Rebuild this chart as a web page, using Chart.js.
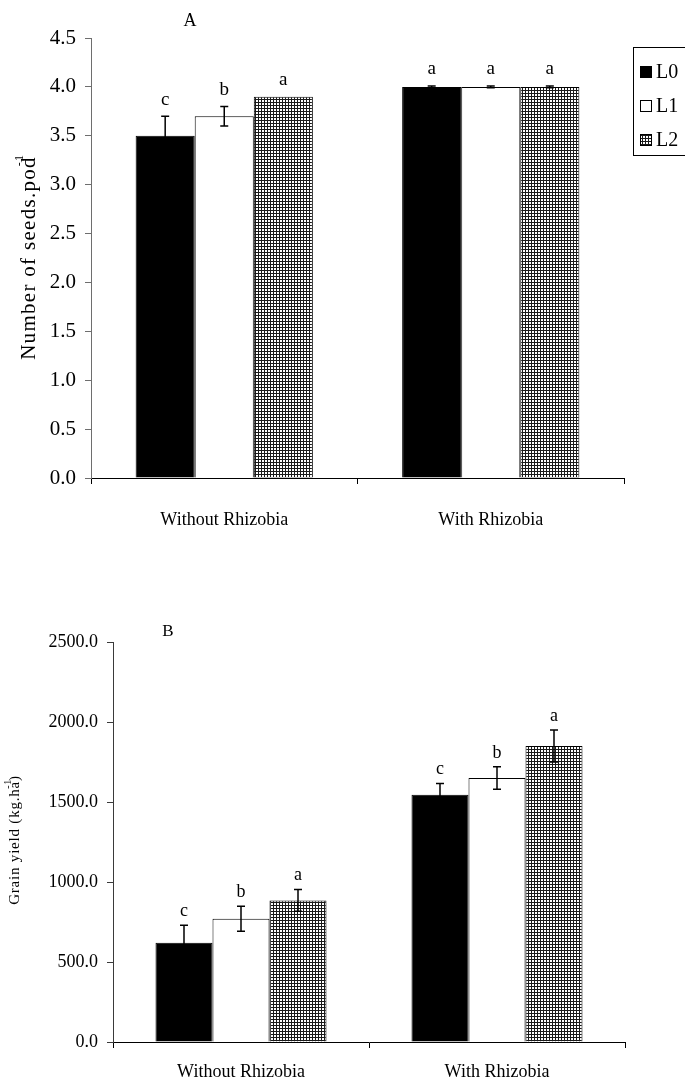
<!DOCTYPE html>
<html>
<head>
<meta charset="utf-8">
<script src="https://cdn.jsdelivr.net/npm/chart.js@4.4.1/dist/chart.umd.min.js"></script>
<style>
  html, body { margin: 0; padding: 0; background: #fff; }
  body { width: 685px; height: 1085px; position: relative; overflow: hidden; }
  canvas { position: absolute; left: 0; }
  #chartA { top: 0; }
  #chartB { top: 545px; }
</style>
</head>
<body>
<canvas id="chartA" width="685" height="545"></canvas>
<canvas id="chartB" width="685" height="540"></canvas>
<script>
// Treatments and lime levels
const categories = ['Without Rhizobia', 'With Rhizobia'];
const seriesLabels = ['L0', 'L1', 'L2'];

// Panel A: number of seeds per pod
const seedsL0 = [3.5, 4.0];
const seedsL1 = [3.7, 4.0];
const seedsL2 = [3.9, 4.0];
const seedsErrL0 = [0.2, 0.01];
const seedsErrL1 = [0.1, 0.01];
const seedsErrL2 = [0.0, 0.01];
const seedsLetters = [['c', 'a'], ['b', 'a'], ['a', 'a']];
const seedsTicks = [0, 0.5, 1.0, 1.5, 2.0, 2.5, 3.0, 3.5, 4.0, 4.5];

// Panel B: grain yield (kg/ha)
const yieldL0 = [620, 1545];
const yieldL1 = [770, 1650];
const yieldL2 = [885, 1850];
const yieldErrL0 = [110, 70];
const yieldErrL1 = [78, 70];
const yieldErrL2 = [68, 100];
const yieldLetters = [['c', 'c'], ['b', 'b'], ['a', 'a']];
const yieldTicks = [0, 500, 1000, 1500, 2000, 2500];

const SERIF = '"Liberation Serif", "Times New Roman", serif';

// Fine checkered fill used for L2
function makeGridPattern() {
  const c = document.createElement('canvas');
  c.width = 3; c.height = 3;
  const g = c.getContext('2d');
  g.fillStyle = '#ffffff';
  g.fillRect(0, 0, 3, 3);
  g.fillStyle = '#1a1a1a';
  g.fillRect(0, 0, 3, 1);
  g.fillRect(0, 0, 1, 3);
  return g.createPattern(c, 'repeat');
}
const gridFill = makeGridPattern();
const fills = ['#000000', '#ffffff', gridFill];

// Error bars and significance letters drawn on top of the bars
const errorBarPlugin = {
  id: 'errorBars',
  afterDatasetsDraw(chart, args, opts) {
    const ctx = chart.ctx;
    const y = chart.scales.y;
    ctx.save();
    chart.data.datasets.forEach((ds, di) => {
      const meta = chart.getDatasetMeta(di);
      meta.data.forEach((bar, i) => {
        const v = ds.data[i];
        const e = opts.errors[di][i];
        const x = bar.x;
        const yTop = y.getPixelForValue(v + e);
        const yBot = y.getPixelForValue(v - e);
        ctx.strokeStyle = '#000';
        ctx.lineWidth = 1.5;
        if (e > 0) {
          ctx.beginPath();
          ctx.moveTo(x, yTop); ctx.lineTo(x, yBot);
          ctx.moveTo(x - 4, yTop); ctx.lineTo(x + 4, yTop);
          ctx.moveTo(x - 4, yBot); ctx.lineTo(x + 4, yBot);
          ctx.stroke();
        }
        ctx.fillStyle = '#000';
        ctx.font = opts.letterFont;
        ctx.textAlign = 'center';
        ctx.textBaseline = 'bottom';
        ctx.fillText(opts.letters[di][i], x, yTop - opts.letterGap);
      });
    });
    ctx.restore();
  }
};

// Panel letter, rotated y title with superscript, and boxed legend
const decorPlugin = {
  id: 'decor',
  afterDraw(chart, args, opts) {
    const ctx = chart.ctx;
    ctx.save();
    ctx.fillStyle = '#000';
    ctx.font = opts.panelFont;
    ctx.textAlign = 'center';
    ctx.textBaseline = 'middle';
    ctx.fillText(opts.panel, opts.panelX, opts.panelY);

    // y title
    ctx.save();
    ctx.translate(opts.titleX, opts.titleY);
    ctx.rotate(-Math.PI / 2);
    ctx.letterSpacing = opts.spacing + 'px';
    ctx.font = opts.titleFont;
    ctx.textBaseline = 'middle';
    const w1 = ctx.measureText(opts.title).width;
    ctx.font = opts.supFont;
    const w2 = ctx.measureText('-1').width;
    ctx.font = opts.titleFont;
    const w3 = ctx.measureText(opts.titleEnd).width;
    const total = w1 + w3;
    const sx = -total / 2;
    ctx.textAlign = 'left';
    ctx.fillText(opts.title, sx, 0);
    ctx.font = opts.supFont;
    ctx.fillText('-1', sx + w1 - w2 * 0.8, -opts.supRise);
    ctx.font = opts.titleFont;
    ctx.fillText(opts.titleEnd, sx + w1, 0);
    ctx.restore();

    if (opts.legend) {
      const L = opts.legend;
      ctx.strokeStyle = '#000';
      ctx.lineWidth = 1;
      ctx.strokeRect(L.x + 0.5, L.y + 0.5, L.w, L.h);
      chart.data.datasets.forEach((ds, di) => {
        const cy = L.y + L.first + di * L.step;
        ctx.fillStyle = ds.backgroundColor;
        ctx.fillRect(L.x + 7, cy - 6, 12, 12);
        ctx.strokeStyle = '#000';
        ctx.strokeRect(L.x + 7.5, cy - 5.5, 11, 11);
        ctx.fillStyle = '#000';
        ctx.font = L.font;
        ctx.textAlign = 'left';
        ctx.textBaseline = 'middle';
        ctx.fillText(ds.label, L.x + 23, cy + 1);
      });
    }
    ctx.restore();
  }
};

function buildDatasets(series, catPct) {
  return series.map((data, i) => ({
    label: seriesLabels[i],
    data: data,
    backgroundColor: fills[i],
    borderColor: '#000',
    borderWidth: 1,
    borderSkipped: 'bottom',
    categoryPercentage: catPct,
    barPercentage: 1.0
  }));
}

function buildChart(id, cfg) {
  return new Chart(document.getElementById(id), {
    type: 'bar',
    data: { labels: categories, datasets: buildDatasets(cfg.series, cfg.catPct) },
    options: {
      responsive: false,
      animation: false,
      layout: { padding: cfg.padding },
      plugins: {
        legend: { display: false },
        tooltip: { enabled: false },
        errorBars: { errors: cfg.errors, letters: cfg.letters, letterFont: cfg.letterFont, letterGap: cfg.letterGap },
        decor: cfg.decor
      },
      scales: {
        x: {
          grid: { display: true, offset: true, drawOnChartArea: false, drawTicks: true, tickLength: 6, color: '#000' },
          border: { display: true, color: '#000', width: 1 },
          ticks: { color: '#000', font: { family: SERIF, size: cfg.xFont }, padding: cfg.xPad, maxRotation: 0 },
          afterFit(s) { s.height = cfg.xHeight; }
        },
        y: {
          min: 0,
          max: cfg.ticks[cfg.ticks.length - 1],
          afterBuildTicks(s) { s.ticks = cfg.ticks.map(v => ({ value: v })); },
          grid: { display: true, drawOnChartArea: false, drawTicks: true, tickLength: 6, color: cfg.yColor },
          border: { display: true, color: cfg.yColor, width: 1 },
          ticks: { color: '#000', font: { family: SERIF, size: cfg.yFont }, padding: 9,
                    callback: v => Number(v).toFixed(1) },
          afterFit(s) { s.width = cfg.yWidth; }
        }
      }
    },
    plugins: [errorBarPlugin, decorPlugin]
  });
}

// Panel A
buildChart('chartA', {
  series: [seedsL0, seedsL1, seedsL2],
  errors: [seedsErrL0, seedsErrL1, seedsErrL2],
  letters: seedsLetters,
  ticks: seedsTicks,
  catPct: 0.665,
  padding: { top: 38, right: 61, bottom: 0, left: 0 },
  xHeight: 67, yWidth: 91,
  xFont: 18, yFont: 21, xPad: 25,
  yColor: '#6e6e6e',
  letterFont: '19px ' + SERIF, letterGap: 7,
  decor: {
    panel: 'A', panelX: 190, panelY: 21, panelFont: '18px ' + SERIF,
    title: 'Number of seeds.pod', titleEnd: '', titleX: 29, titleY: 258,
    titleFont: '21px ' + SERIF, supFont: '12px ' + SERIF, supRise: 9, spacing: 1.3,
    legend: { x: 633, y: 47, w: 60, h: 108, first: 25, step: 34, font: '20px ' + SERIF }
  }
});

// Panel B
buildChart('chartB', {
  series: [yieldL0, yieldL1, yieldL2],
  errors: [yieldErrL0, yieldErrL1, yieldErrL2],
  letters: yieldLetters,
  ticks: yieldTicks,
  catPct: 0.668,
  padding: { top: 97, right: 60, bottom: 0, left: 0 },
  xHeight: 43, yWidth: 113,
  xFont: 18, yFont: 18, xPad: 13,
  yColor: '#3a3a3a',
  letterFont: '18px ' + SERIF, letterGap: 5,
  decor: {
    panel: 'B', panelX: 168, panelY: 87, panelFont: '17px ' + SERIF,
    title: 'Grain yield (kg.ha', titleEnd: ')', titleX: 15, titleY: 295,
    titleFont: '15px ' + SERIF, supFont: '10px ' + SERIF, supRise: 7, spacing: 0.8,
    legend: null
  }
});
</script>
</body>
</html>
